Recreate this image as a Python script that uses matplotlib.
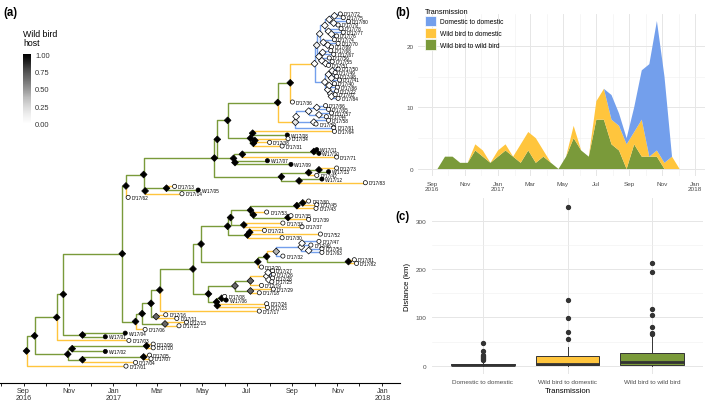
import matplotlib
matplotlib.use("Agg")
import matplotlib.pyplot as plt
import matplotlib.dates as mdates
from matplotlib.collections import LineCollection
from matplotlib.patches import Patch
from matplotlib.cm import ScalarMappable
from matplotlib.colors import Normalize
from matplotlib.ticker import FuncFormatter
import numpy as np
import pandas as pd

plt.rcParams["font.family"] = ["Liberation Sans", "DejaVu Sans"]

GREEN = "#7A9A3A"
YELLOW = "#FFC53D"
BLUE = "#739FEC"

# ---- (b) transmission events per fortnight
bins = pd.date_range("2016-09-11", periods=33, freq="14D")
wild_wild = [0, 2, 2, 1, 1, 3, 2, 1, 2, 3, 2, 1, 3, 1, 2, 1, 0,
             2, 5, 3, 2, 8, 8, 4, 3, 0, 4, 2, 2, 2, 0, 0, 0]
wild_dom = [0, 0, 0, 0, 0, 1, 1, 0, 1, 1, 0, 3, 3, 4, 1, 0, 0,
            0, 2, 0, 0, 3, 5, 4, 4, 4, 2, 6, 0, 1, 1, 2, 0]
dom_dom = [0, 0, 0, 0, 0, 0, 0, 0, 0, 0, 0, 0, 0, 0, 0, 0, 0,
           0, 0, 0, 0, 0, 0, 4, 2, 1, 4, 8, 15, 21, 14, 0, 0]
trans_names = ["Domestic to domestic", "Wild bird to domestic", "Wild bird to wild bird"]
trans_cols = [BLUE, YELLOW, GREEN]

# ---- (c) distance between linked cases (box summaries)
dist_med = [2, 4, 7]
dist_q1 = [0.5, 1.5, 2.5]
dist_q3 = [4, 20, 27]
dist_lo = [0, 0, 0]
dist_hi = [9, 39, 64]
dist_out = [[11, 13, 16, 19, 21, 23, 30, 47],
            [55, 70, 99, 137, 329],
            [66, 68, 81, 105, 117, 194, 212]]


# ---- (a) time-scaled tree: node(date, P(wild host), children...) / tip(date, label)
def node(date, wild, *kids):
    return {"date": date, "wild": wild, "kids": list(kids)}


def tip(date, label):
    return {"date": date, "wild": 1.0 if label[0] == "W" else 0.0, "kids": [], "label": label}


top_a = node("2017-10-04", 0.05,
             node("2017-10-08", 0.0,
                  node("2017-10-15", 0.0,
                       node("2017-10-21", 0.0,
                            node("2017-10-28", 0.0, tip("2017-11-05", "D/17/72"), tip("2017-11-09", "D/17/75")),
                            node("2017-10-27", 0.0, tip("2017-11-16", "D/17/80"), tip("2017-11-02", "D/17/79"))),
                       node("2017-10-20", 0.0, tip("2017-11-06", "D/17/78"),
                            node("2017-10-24", 0.0, tip("2017-11-09", "D/17/77"), tip("2017-10-31", "D/17/76")))),
                  node("2017-10-13", 0.0, tip("2017-10-28", "D/17/74"),
                       node("2017-10-19", 0.0, tip("2017-11-02", "D/17/70"), tip("2017-10-24", "D/17/69")))),
             node("2017-10-07", 0.0,
                  node("2017-10-12", 0.0, tip("2017-10-23", "D/17/68"), tip("2017-10-27", "D/17/67")),
                  node("2017-10-11", 0.0, tip("2017-10-21", "D/17/56"),
                       node("2017-10-16", 0.0, tip("2017-10-25", "D/17/55"), tip("2017-10-20", "D/17/51")))))
top_b = node("2017-10-15", 0.0,
             node("2017-10-20", 0.0,
                  node("2017-10-25", 0.0, tip("2017-11-02", "D/17/50"), tip("2017-10-29", "D/17/49")),
                  node("2017-10-24", 0.0, tip("2017-10-31", "D/17/48"), tip("2017-11-04", "D/17/41"))),
             node("2017-10-19", 0.0,
                  node("2017-10-21", 0.0, tip("2017-10-28", "D/17/40"), tip("2017-11-01", "D/17/86")),
                  node("2017-10-23", 0.0, tip("2017-10-31", "D/17/22"),
                       node("2017-10-24", 0.0, tip("2017-10-29", "D/17/02"), tip("2017-11-02", "D/17/84")))))
clade_k = node("2017-09-05", 0.1,
               node("2017-09-06", 0.0,
                    node("2017-09-23", 0.0,
                         node("2017-10-04", 0.0, tip("2017-10-16", "D/17/66"), tip("2017-10-20", "D/17/65")),
                         node("2017-10-07", 0.0, tip("2017-10-24", "D/17/57"), tip("2017-10-17", "D/17/44"))),
                    node("2017-09-30", 0.0, tip("2017-10-20", "D/17/58"), tip("2017-10-03", "D/17/59"))),
               tip("2017-10-27", "D/17/61"))
clade_l = node("2017-07-06", 1.0,
               node("2017-07-09", 1.0, tip("2017-10-28", "D/17/64"), tip("2017-08-25", "W/17/08")),
               node("2017-07-10", 1.0,
                    node("2017-07-12", 1.0, tip("2017-08-26", "D/17/34"), tip("2017-08-01", "D/17/38")),
                    tip("2017-08-18", "D/17/31")))
clade_n = node("2017-06-13", 1.0,
               node("2017-06-25", 1.0,
                    node("2017-09-30", 1.0, tip("2017-10-04", "W/17/11"), tip("2017-10-07", "W/17/10")),
                    tip("2017-10-31", "D/17/71")),
               node("2017-06-15", 1.0, tip("2017-07-29", "W/17/07"), tip("2017-08-30", "W/17/09")))
clade_i = node("2017-08-17", 1.0,
               node("2017-09-23", 1.0,
                    node("2017-10-07", 1.0, tip("2017-10-31", "D/17/73"), tip("2017-10-20", "W/17/13")),
                    tip("2017-10-04", "D/17/42")),
               node("2017-09-10", 1.0, tip("2017-10-11", "W/17/12"), tip("2017-12-09", "D/17/83")))
upper = node("2017-02-11", 1.0,
             node("2017-05-18", 1.0,
                  node("2017-05-22", 1.0,
                       node("2017-06-05", 1.0,
                            node("2017-08-12", 1.0,
                                 node("2017-08-29", 1.0,
                                      node("2017-10-01", 0.0, top_a, top_b),
                                      tip("2017-09-01", "D/17/36")),
                                 clade_k),
                            clade_l),
                       clade_n),
                  clade_i),
             node("2017-02-13", 1.0,
                  node("2017-03-14", 1.0, tip("2017-03-25", "D/17/13"), tip("2017-04-26", "W/17/05")),
                  tip("2017-04-04", "D/17/14")))
clade_h = node("2017-06-05", 1.0,
               node("2017-06-09", 1.0,
                    node("2017-07-06", 1.0,
                         node("2017-09-07", 1.0,
                              node("2017-09-15", 1.0, tip("2017-09-23", "D/17/60"), tip("2017-10-04", "D/17/45")),
                              tip("2017-10-03", "D/17/43")),
                         node("2017-07-10", 1.0, tip("2017-07-28", "D/17/53"),
                              node("2017-08-26", 1.0, tip("2017-08-30", "D/17/35"), tip("2017-09-23", "D/17/39")))),
                    node("2017-06-27", 1.0, tip("2017-08-19", "D/17/33"), tip("2017-09-14", "D/17/37"))),
               node("2017-07-02", 1.0,
                    node("2017-07-05", 1.0, tip("2017-07-25", "D/17/21"), tip("2017-10-09", "D/17/52")),
                    tip("2017-08-18", "D/17/30")))
clade_j = node("2017-07-16", 1.0,
               node("2017-07-28", 1.0,
                    node("2017-08-10", 0.3,
                         node("2017-09-13", 0.0,
                              node("2017-09-14", 0.0, tip("2017-10-07", "D/17/47"), tip("2017-09-26", "D/17/46")),
                              node("2017-09-23", 0.0, tip("2017-10-11", "D/17/54"), tip("2017-10-11", "D/17/63"))),
                         tip("2017-08-19", "D/17/32")),
                    node("2017-11-16", 1.0, tip("2017-11-24", "D/17/81"), tip("2017-11-27", "D/17/82"))),
               tip("2017-07-21", "D/17/20"))
clade_g = node("2017-05-10", 1.0,
               node("2017-06-15", 0.6,
                    node("2017-07-06", 0.6,
                         node("2017-07-28", 0.0,
                              node("2017-07-30", 0.0, tip("2017-08-05", "D/17/27"), tip("2017-08-06", "D/17/26")),
                              node("2017-07-31", 0.0, tip("2017-08-05", "D/17/28"), tip("2017-08-04", "D/17/25"))),
                         tip("2017-07-21", "D/17/19")),
                    node("2017-07-06", 0.6, tip("2017-08-06", "D/17/29"), tip("2017-07-18", "D/17/18"))),
               node("2017-05-21", 1.0,
                    node("2017-05-28", 1.0, tip("2017-06-01", "D/17/08"), tip("2017-06-03", "W/17/06")),
                    node("2017-05-22", 1.0, tip("2017-07-28", "D/17/24"), tip("2017-07-29", "D/17/23"))))
lower = node("2017-01-31", 1.0,
             node("2017-02-09", 1.0,
                  node("2017-02-21", 1.0,
                       node("2017-03-05", 1.0,
                            node("2017-04-19", 1.0,
                                 node("2017-04-30", 1.0, clade_h, clade_j),
                                 clade_g),
                            tip("2017-07-18", "D/17/17")),
                       node("2017-02-28", 0.6, tip("2017-03-13", "D/17/16"), tip("2017-03-28", "D/17/11"))),
                  node("2017-03-12", 0.6, tip("2017-04-10", "D/17/15"), tip("2017-03-31", "D/17/12"))),
             tip("2017-02-13", "D/17/06"))
tree = node("2016-09-05", 1.0,
            node("2016-09-16", 1.0,
                 node("2016-10-16", 1.0,
                      node("2016-10-25", 1.0,
                           node("2017-01-13", 1.0,
                                node("2017-01-18", 1.0, upper, tip("2017-01-21", "D/17/62")),
                                lower),
                           node("2016-11-20", 1.0, tip("2017-01-17", "W/17/04"), tip("2016-12-21", "W/17/01"))),
                      tip("2017-01-22", "D/17/03")),
                 node("2016-10-31", 1.0,
                      node("2016-11-06", 1.0,
                           node("2017-02-15", 1.0, tip("2017-02-24", "D/17/09"), tip("2017-02-24", "D/17/10")),
                           tip("2016-12-21", "W/17/02")),
                      node("2016-11-20", 1.0,
                           node("2017-02-11", 1.0, tip("2017-02-19", "D/17/05"), tip("2017-02-21", "D/17/07")),
                           tip("2017-01-31", "D/17/04")))),
            tip("2017-01-18", "D/17/01"))


def place(n, tips):
    n["x"] = mdates.datestr2num(n["date"])
    if n["kids"]:
        for k in n["kids"]:
            place(k, tips)
        n["y"] = np.mean([k["y"] for k in n["kids"]])
    else:
        n["y"] = len(tips)
        tips.append(n)


def edge_colour(parent, child):
    if parent["wild"] >= 0.5:
        return GREEN if child["wild"] >= 0.5 else YELLOW
    return BLUE


def walk(n, segs, cols, inner):
    if n["kids"]:
        inner.append(n)
    for k in n["kids"]:
        segs.append([(n["x"], n["y"]), (n["x"], k["y"]), (k["x"], k["y"])])
        cols.append(edge_colour(n, k))
        walk(k, segs, cols, inner)


W, H = 709, 402
fig = plt.figure(figsize=(W / 100, H / 100), dpi=100)


def box(l, t, r, b):
    return [l / W, 1 - b / H, (r - l) / W, (b - t) / H]


# ================= (a)
ax_a = fig.add_axes(box(0, 8, 400, 384))
tips = []
place(tree, tips)
segs, cols, inner = [], [], []
walk(tree, segs, cols, inner)
ax_a.add_collection(LineCollection(segs, colors=cols, linewidths=1.0, zorder=1))
ax_a.scatter([n["x"] for n in inner], [n["y"] for n in inner], marker="D", s=12,
             c=[(1 - n["wild"],) * 3 for n in inner], edgecolors="black", linewidths=0.5, zorder=3)
ax_a.scatter([t["x"] for t in tips], [t["y"] for t in tips], marker="o", s=9,
             c=["black" if t["wild"] > 0.5 else "white" for t in tips],
             edgecolors="black", linewidths=0.5, zorder=3)
for t in tips:
    ax_a.annotate(t["label"], (t["x"], t["y"]), xytext=(2.5, 0), textcoords="offset points",
                  fontsize=3.4, va="center", ha="left", zorder=4)

ax_a.set_xlim(mdates.datestr2num("2016-07-31"), mdates.datestr2num("2018-01-25"))
ax_a.set_ylim(len(tips) - 1 + 4.6, -1.9)
for s in ["left", "top", "right"]:
    ax_a.spines[s].set_visible(False)
ax_a.spines["bottom"].set_linewidth(0.8)
ax_a.set_yticks([])
ax_a.xaxis.set_major_locator(mdates.MonthLocator())


def tree_month(v, pos):
    d = mdates.num2date(v)
    if d.month % 2 == 0:
        return ""
    if d.month == 1 or (d.year == 2016 and d.month == 9):
        return d.strftime("%b\n%Y")
    return d.strftime("%b")


ax_a.xaxis.set_major_formatter(FuncFormatter(tree_month))
ax_a.tick_params(axis="x", length=2.0, width=0.6, labelsize=5.2, labelcolor="#333333", pad=1.0)
for lab in ax_a.get_xticklabels():
    lab.set_linespacing(0.95)

cax = fig.add_axes(box(23, 55, 31, 125))
cb = fig.colorbar(ScalarMappable(Normalize(0, 1), "Greys"), cax=cax, ticks=[0, 0.25, 0.5, 0.75, 1])
cb.ax.set_yticklabels(["0.00", "0.25", "0.50", "0.75", "1.00"])
cb.outline.set_visible(False)
cb.ax.tick_params(length=0, labelsize=5.4, labelcolor="#333333", pad=3)
fig.text(23 / W, 1 - 30 / H, "Wild bird\nhost", fontsize=6.3, va="top", ha="left", linespacing=1.05)

# ================= (b)
ax_b = fig.add_axes(box(418, 14.6, 705, 177.4))
ax_b.stackplot(bins, wild_wild, wild_dom, dom_dom, colors=[GREEN, YELLOW, BLUE], linewidth=0, zorder=2)
ax_b.set_xlim(mdates.datestr2num("2016-08-06"), mdates.datestr2num("2018-01-19"))
ax_b.set_ylim(-1.2, 25.2)
ax_b.xaxis.set_major_locator(mdates.MonthLocator(bymonth=[1, 3, 5, 7, 9, 11]))
ax_b.xaxis.set_minor_locator(mdates.MonthLocator(bymonth=[2, 4, 6, 8, 10, 12]))
ax_b.xaxis.set_major_formatter(FuncFormatter(tree_month))
ax_b.set_yticks([0, 10, 20])
ax_b.set_yticks([5, 15], minor=True)
ax_b.grid(which="major", color="#E6E6E6", linewidth=0.7, zorder=0)
ax_b.grid(which="minor", color="#EFEFEF", linewidth=0.4, zorder=0)
ax_b.set_axisbelow(True)
for s in ax_b.spines.values():
    s.set_visible(False)
ax_b.tick_params(which="both", length=0, labelsize=4.6, labelcolor="#4D4D4D", pad=3)
for lab in ax_b.get_xticklabels():
    lab.set_linespacing(1.0)
leg = ax_b.legend(handles=[Patch(facecolor=c, edgecolor="white", linewidth=0.5) for c in trans_cols],
                  labels=trans_names, title="Transmission", loc="upper left",
                  bbox_to_anchor=(420 / W, 1 - 4 / H), bbox_transform=fig.transFigure,
                  frameon=False, fontsize=4.8, title_fontsize=5.3, handlelength=1.7,
                  handleheight=2.0, handletextpad=0.6, labelspacing=0.2, borderpad=0.2)
leg._legend_box.align = "left"

# ================= (c)
ax_c = fig.add_axes(box(432, 199.3, 703, 374.7))
stats = [dict(med=dist_med[i], q1=dist_q1[i], q3=dist_q3[i], whislo=dist_lo[i],
              whishi=dist_hi[i], fliers=dist_out[i]) for i in range(3)]
bp = ax_c.bxp(stats, positions=[1, 2, 3], widths=0.75, patch_artist=True, showcaps=False,
              boxprops=dict(edgecolor="#333333", linewidth=0.7),
              medianprops=dict(color="#333333", linewidth=2.0),
              whiskerprops=dict(color="#333333", linewidth=0.7),
              flierprops=dict(marker="o", markerfacecolor="#333333", markeredgecolor="#333333",
                              markersize=2.8))
for patch, c in zip(bp["boxes"], trans_cols):
    patch.set_facecolor(c)
ax_c.set_xlim(0.4, 3.6)
ax_c.set_ylim(-16.5, 346.5)
ax_c.set_xticks([1, 2, 3])
ax_c.set_xticklabels(trans_names)
ax_c.set_yticks([0, 100, 200, 300])
ax_c.set_yticks([50, 150, 250], minor=True)
ax_c.grid(which="major", color="#E6E6E6", linewidth=0.7)
ax_c.grid(which="minor", axis="y", color="#EFEFEF", linewidth=0.4)
ax_c.set_axisbelow(True)
for s in ax_c.spines.values():
    s.set_visible(False)
ax_c.tick_params(which="both", length=0, labelsize=4.6, labelcolor="#4D4D4D", pad=4)
ax_c.set_xlabel("Transmission", fontsize=5.6, labelpad=2)
ax_c.set_ylabel("Distance (km)", fontsize=5.6, labelpad=3)

fig.text(3 / W, 1 - 13 / H, "(a)", fontsize=8.3, fontweight="bold", va="center")
fig.text(395 / W, 1 - 13 / H, "(b)", fontsize=8.3, fontweight="bold", va="center")
fig.text(395 / W, 1 - 217 / H, "(c)", fontsize=8.3, fontweight="bold", va="center")

fig.savefig("out.png", dpi=100)
